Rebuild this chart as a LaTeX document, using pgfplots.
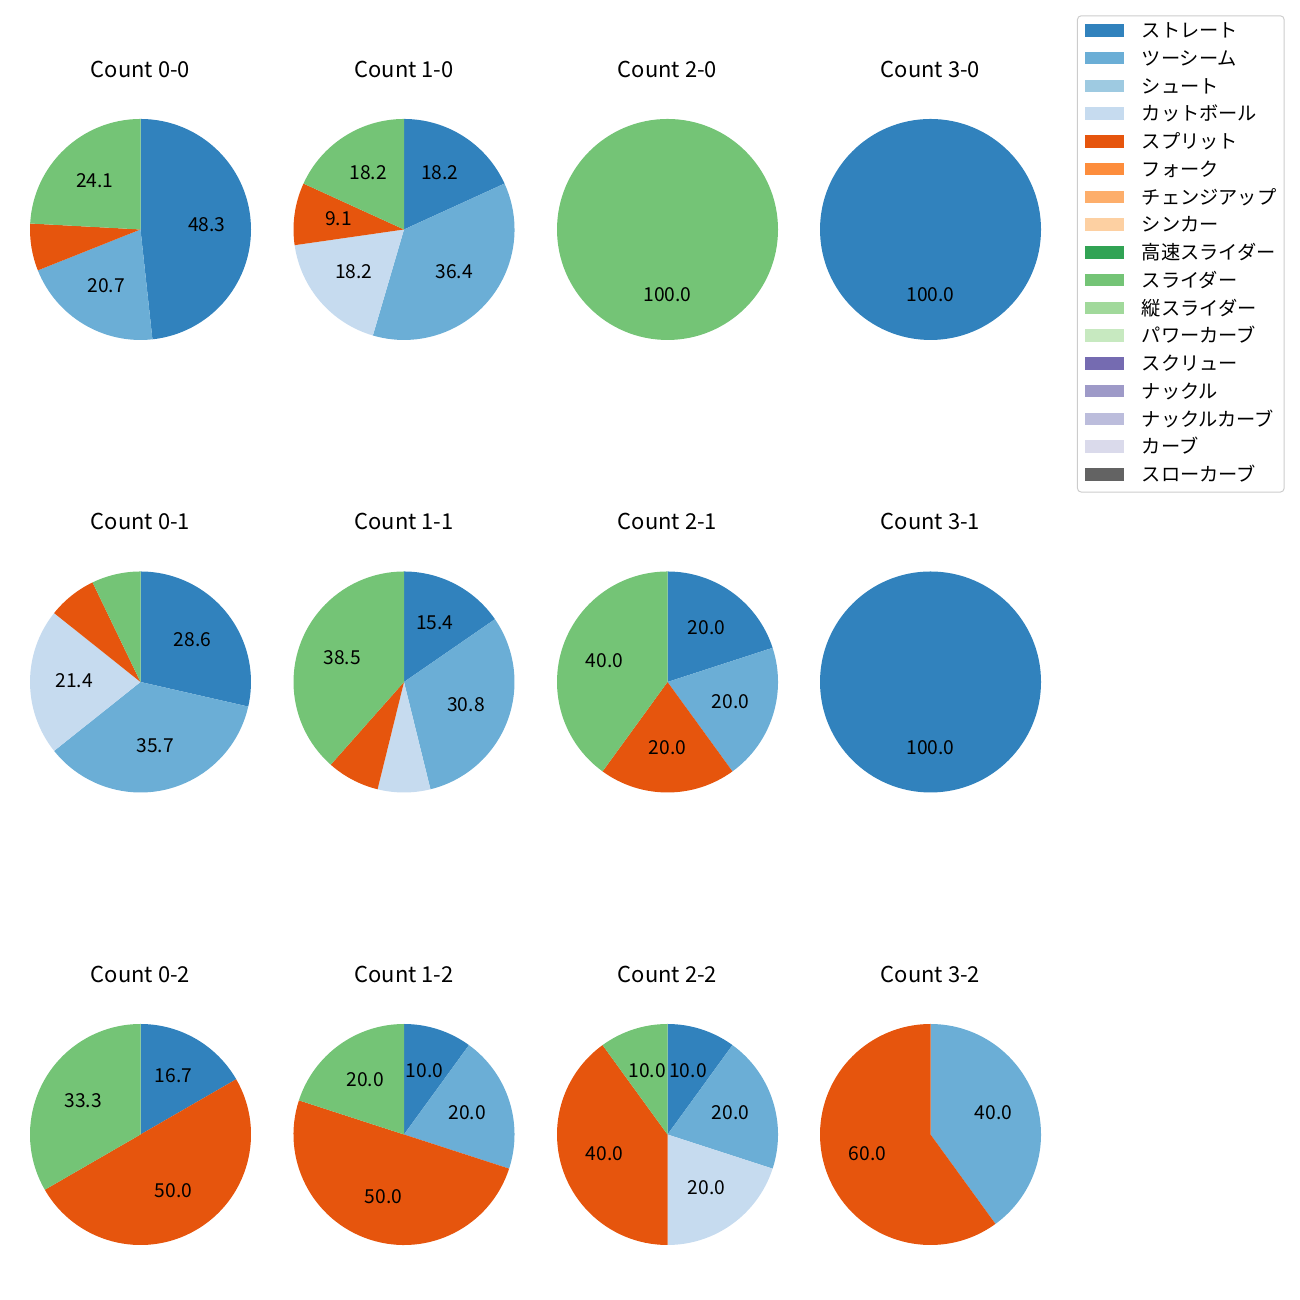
\documentclass[border=0pt]{standalone}
\usepackage{fontspec}
\setmainfont{Noto Sans CJK JP}
\usepackage{pgfplots}
\usepackage{pgfplotstable}
\pgfplotsset{compat=1.18}
\pgfkeys{/pgf/number format/assume math mode=true}

\definecolor{tc0}{HTML}{3182BD}
\definecolor{tc1}{HTML}{6BAED6}
\definecolor{tc2}{HTML}{9ECAE1}
\definecolor{tc3}{HTML}{C6DBEF}
\definecolor{tc4}{HTML}{E6550D}
\definecolor{tc5}{HTML}{FD8D3C}
\definecolor{tc6}{HTML}{FDAE6B}
\definecolor{tc7}{HTML}{FDD0A2}
\definecolor{tc8}{HTML}{31A354}
\definecolor{tc9}{HTML}{74C476}
\definecolor{tc10}{HTML}{A1D99B}
\definecolor{tc11}{HTML}{C7E9C0}
\definecolor{tc12}{HTML}{756BB1}
\definecolor{tc13}{HTML}{9E9AC8}
\definecolor{tc14}{HTML}{BCBDDC}
\definecolor{tc15}{HTML}{DADAEB}
\definecolor{tc16}{HTML}{636363}

% pitch counts per ball-strike count (ci = colour index of the pitch type)
\pgfplotstableread{
ci  c00 c10 c20 c30 c01 c11 c21 c31 c02 c12 c22 c32
0   14  2   0   1   4   2   1   1   1   1   1   0
1   6   4   0   0   5   4   1   0   0   2   2   2
3   0   2   0   0   3   1   0   0   0   0   2   0
4   2   1   0   0   1   1   1   0   3   5   4   3
9   7   2   1   0   1   5   2   0   2   2   1   0
}\counts

\def\pieR{57.46pt}

\newcommand\drawpie[1]{%
  \pgfplotstablegetrowsof{\counts}%
  \pgfmathtruncatemacro\pienrows{\pgfplotsretval-1}%
  \gdef\pietot{0}%
  \foreach \i in {0,...,\pienrows}{%
    \pgfplotstablegetelem{\i}{#1}\of\counts
    \pgfmathsetmacro\pietmp{\pietot+\pgfplotsretval}%
    \global\let\pietot\pietmp}%
  \gdef\piecum{0}%
  \foreach \i in {0,...,\pienrows}{%
    \pgfplotstablegetelem{\i}{#1}\of\counts
    \let\pien\pgfplotsretval
    \pgfplotstablegetelem{\i}{ci}\of\counts
    \let\pieci\pgfplotsretval
    \ifdim\pien pt>0pt
      \pgfmathsetmacro\pieS{90-360*\piecum/\pietot}%
      \pgfmathsetmacro\pieE{90-360*(\piecum+\pien)/\pietot}%
      \fill[fill=tc\pieci] (axis cs:0,0) -- (axis cs:{cos(\pieS)},{sin(\pieS)}) arc[start angle=\pieS, end angle=\pieE, radius=\pieR] -- cycle;
      \pgfmathsetmacro\pietmp{\piecum+\pien}%
      \global\let\piecum\pietmp
    \fi}%
  \gdef\piecum{0}%
  \foreach \i in {0,...,\pienrows}{%
    \pgfplotstablegetelem{\i}{#1}\of\counts
    \let\pien\pgfplotsretval
    \ifdim\pien pt>0pt
      \pgfmathsetmacro\pieM{90-360*(\piecum+0.5*\pien)/\pietot}%
      \pgfmathsetmacro\pieP{100*\pien/\pietot}%
      \ifdim\pieP pt>8pt
        \node[font=\fontsize{10}{12}\selectfont, anchor=center, inner sep=0pt, yshift=0.5pt] at (axis cs:{0.6*cos(\pieM)},{0.6*sin(\pieM)}) {\pgfmathprintnumber[fixed,fixed zerofill,precision=1]{\pieP}};
      \fi
      \pgfmathsetmacro\pietmp{\piecum+\pien}%
      \global\let\piecum\pietmp
    \fi}%
}

\pgfplotsset{pieax/.style={anchor=center, hide axis, x=\pieR, y=\pieR,
  xmin=-1.25, xmax=1.25, ymin=-1.25, ymax=1.25,
  title style={at={(0.5,1.0098)}, anchor=base, yshift=0pt, font=\fontsize{11.4}{13.7}\selectfont}}}

\newcommand\pieaxis[4]{%
  \begin{axis}[pieax, at={({#3*0.52pt},{(1300-#4)*0.52pt})}, title={#2}]
  \pgfplotsextra{\drawpie{#1}}
  \end{axis}}

\begin{document}
\begin{tikzpicture}
\path[use as bounding box] (0,0) rectangle (676pt,676pt);
\pieaxis{c00}{Count 0-0}{140.5}{229.5}
\pieaxis{c10}{Count 1-0}{404}{229.5}
\pieaxis{c20}{Count 2-0}{667.5}{229.5}
\begin{axis}[pieax, at={({930.5*0.52pt},{(1300-229.5)*0.52pt})}, title={Count 3-0},
  legend style={at={(1.030,1.2753)}, anchor=north west, draw=black!20, line width=0.5pt,
    rounded corners=2pt, font=\fontsize{10}{12}\selectfont, inner xsep=4pt, inner ysep=3pt,
    row sep=3.63pt, nodes={inner sep=0pt, text height=8.4pt, text depth=2.4pt, anchor=base west}},
  legend image code/.code={\path[#1, sharp corners] (0pt,0.6pt) rectangle (20pt,7pt); \path[draw=none, fill=none] (0pt,0.6pt) rectangle (29.5pt,7pt);},
  legend entries={ストレート,ツーシーム,シュート,カットボール,スプリット,フォーク,チェンジアップ,シンカー,高速スライダー,スライダー,縦スライダー,パワーカーブ,スクリュー,ナックル,ナックルカーブ,カーブ,スローカーブ}]
\pgfplotsextra{\drawpie{c30}}
\addlegendimage{fill=tc0,draw=none}
\addlegendimage{fill=tc1,draw=none}
\addlegendimage{fill=tc2,draw=none}
\addlegendimage{fill=tc3,draw=none}
\addlegendimage{fill=tc4,draw=none}
\addlegendimage{fill=tc5,draw=none}
\addlegendimage{fill=tc6,draw=none}
\addlegendimage{fill=tc7,draw=none}
\addlegendimage{fill=tc8,draw=none}
\addlegendimage{fill=tc9,draw=none}
\addlegendimage{fill=tc10,draw=none}
\addlegendimage{fill=tc11,draw=none}
\addlegendimage{fill=tc12,draw=none}
\addlegendimage{fill=tc13,draw=none}
\addlegendimage{fill=tc14,draw=none}
\addlegendimage{fill=tc15,draw=none}
\addlegendimage{fill=tc16,draw=none}
\end{axis}
\pieaxis{c01}{Count 0-1}{140.5}{682}
\pieaxis{c11}{Count 1-1}{404}{682}
\pieaxis{c21}{Count 2-1}{667.5}{682}
\pieaxis{c31}{Count 3-1}{930.5}{682}
\pieaxis{c02}{Count 0-2}{140.5}{1134.5}
\pieaxis{c12}{Count 1-2}{404}{1134.5}
\pieaxis{c22}{Count 2-2}{667.5}{1134.5}
\pieaxis{c32}{Count 3-2}{930.5}{1134.5}
\end{tikzpicture}
\end{document}
